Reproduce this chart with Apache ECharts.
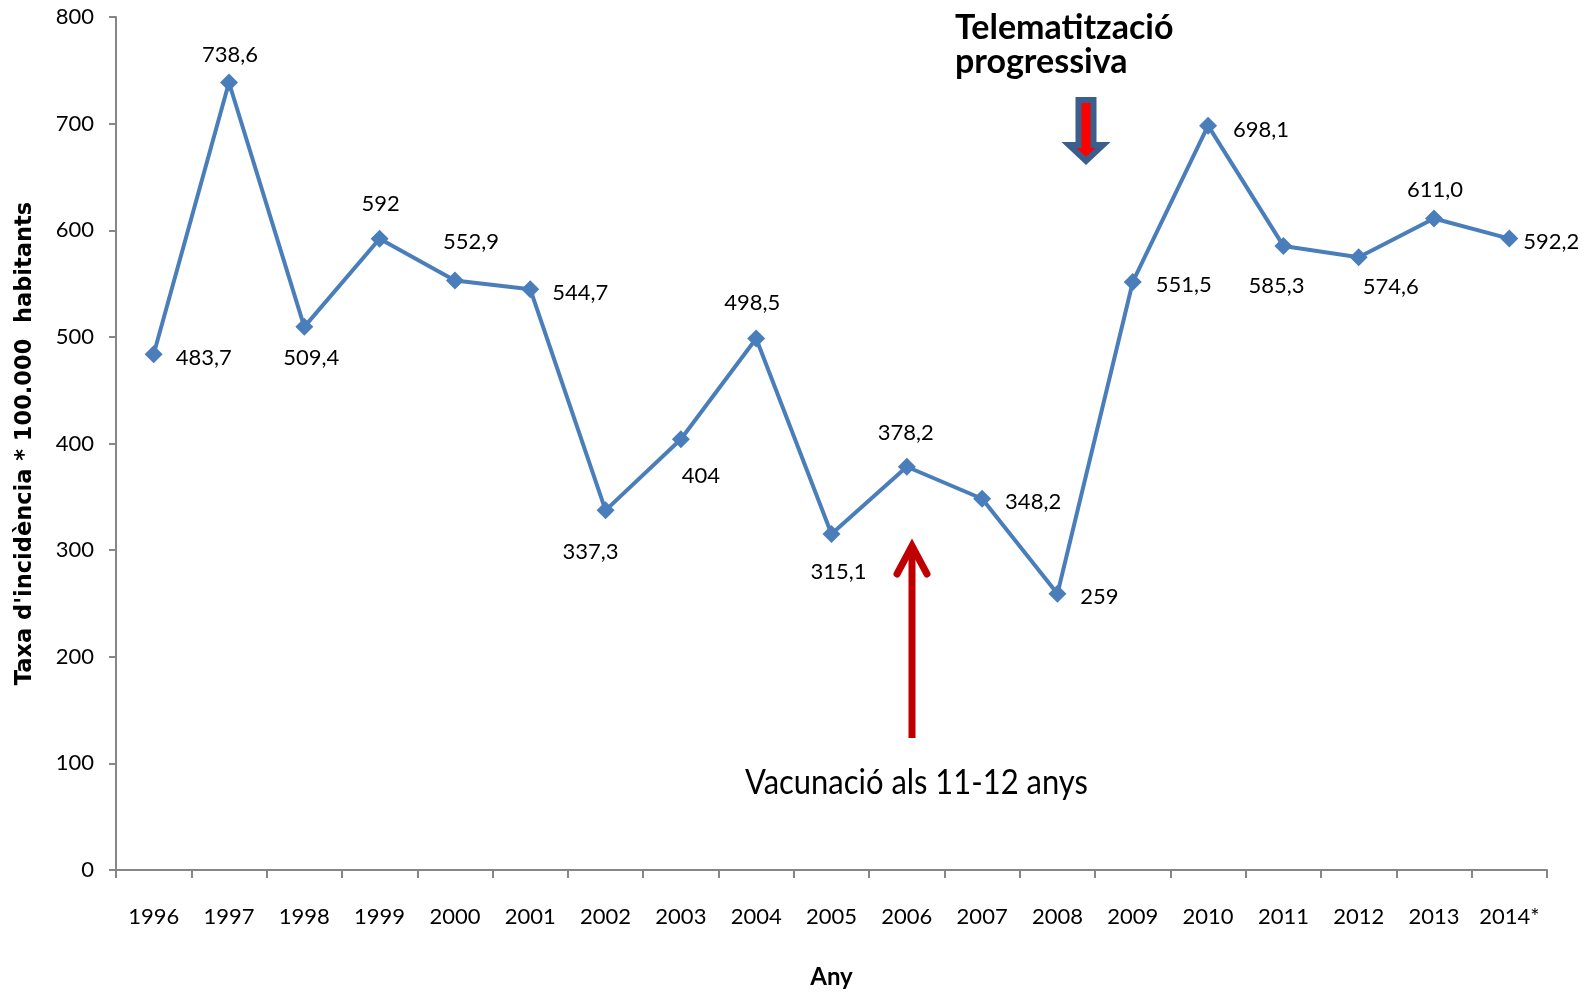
<!DOCTYPE html>
<html>
<head>
<meta charset="utf-8">
<script src="https://cdn.jsdelivr.net/npm/echarts@6/dist/echarts.min.js"></script>
<style>
html,body{margin:0;padding:0;background:#fff;}
#chart{width:1594px;height:994px;}
</style>
</head>
<body>
<div id="chart"></div>
<script>
const years = ['1996','1997','1998','1999','2000','2001','2002','2003','2004','2005','2006','2007','2008','2009','2010','2011','2012','2013','2014*'];
const rates = [483.7, 738.6, 509.4, 592, 552.9, 544.7, 337.3, 404, 498.5, 315.1, 378.2, 348.2, 259, 551.5, 698.1, 585.3, 574.6, 611.0, 592.2];
const rateLabels = ['483,7','738,6','509,4','592','552,9','544,7','337,3','404','498,5','315,1','378,2','348,2','259','551,5','698,1','585,3','574,6','611,0','592,2'];
const yTicks = [0, 100, 200, 300, 400, 500, 600, 700, 800];
const yTitle = "Taxa d'incidència * 100.000  habitants";
const xTitle = 'Any';
const noteTop = ['Telematització', 'progressiva'];
const noteBottom = 'Vacunació als 11-12 anys';

// label offsets (style only)
const labelOffsets = [[50,4],[1,-28],[7,31],[1,-35],[16,-39],[50,4],[-15,42],[20,37],[-4,-36],[7,38],[-1,-34],[51,3],[42,3],[51,3],[53,4],[-7,40],[32,30],[1,-29],[42,3]];

const FONT = 'Lato, "Open Sans", sans-serif';
const chart = echarts.init(document.getElementById('chart'));
const data = rates.map((v, i) => ({
  value: v,
  label: { offset: labelOffsets[i], formatter: rateLabels[i] }
}));

chart.setOption({
  animation: false,
  backgroundColor: '#ffffff',
  grid: { left: 116, right: 47, top: 17, bottom: 124, containLabel: false },
  xAxis: {
    type: 'category',
    data: years,
    boundaryGap: true,
    name: xTitle,
    nameLocation: 'middle',
    nameGap: 95,
    nameTextStyle: { fontFamily: FONT, fontWeight: 'bold', fontSize: 24, color: '#000' },
    axisLine: { lineStyle: { color: '#868686', width: 2 } },
    axisTick: { show: true, length: 8, interval: 0, lineStyle: { color: '#868686', width: 2 } },
    axisLabel: { interval: 0, margin: 36, fontFamily: FONT, fontSize: 22, color: '#000' }
  },
  yAxis: {
    type: 'value',
    min: yTicks[0],
    max: yTicks[yTicks.length - 1],
    interval: 100,
    name: yTitle,
    nameLocation: 'middle',
    nameRotate: 90,
    nameGap: 79,
    nameTextStyle: { fontFamily: '"DejaVu Sans", sans-serif', fontWeight: 'bold', fontSize: 22.5, color: '#000' },
    splitLine: { show: false },
    axisLine: { show: true, lineStyle: { color: '#868686', width: 2 } },
    axisTick: { show: true, length: 7, lineStyle: { color: '#868686', width: 2 } },
    axisLabel: { margin: 22, fontFamily: FONT, fontSize: 22, color: '#000' }
  },
  series: [{
    type: 'line',
    data: data,
    symbol: 'diamond',
    symbolSize: 18,
    lineStyle: { color: '#4a7ebb', width: 4 },
    itemStyle: { color: '#4a7ebb' },
    label: { show: true, position: 'inside', fontFamily: FONT, fontSize: 22, color: '#000' },
    z: 3
  }],
  graphic: [
    { type: 'text', x: 955, y: 11, style: { text: noteTop.join('\n'), font: 'bold 34px ' + FONT, fill: '#000', lineHeight: 34 } },
    { type: 'polygon', shape: { points: [[1078.5,100],[1093.5,100],[1093.5,145],[1103,145],[1086,161],[1069,145],[1078.5,145]] },
      style: { fill: '#ff0000', stroke: '#3b5e8c', lineWidth: 6, lineJoin: 'miter' } },
    { type: 'line', shape: { x1: 912, y1: 738, x2: 912, y2: 546 }, style: { stroke: '#c00000', lineWidth: 7 } },
    { type: 'polyline', shape: { points: [[897,574],[912,546],[927,574]] }, style: { stroke: '#c00000', lineWidth: 7, fill: null, lineCap: 'round', lineJoin: 'miter' } },
    { type: 'text', x: 745, y: 766, scaleX: 0.91, style: { text: noteBottom, font: '34px ' + FONT, fill: '#000' } }
  ]
});
</script>
</body>
</html>
